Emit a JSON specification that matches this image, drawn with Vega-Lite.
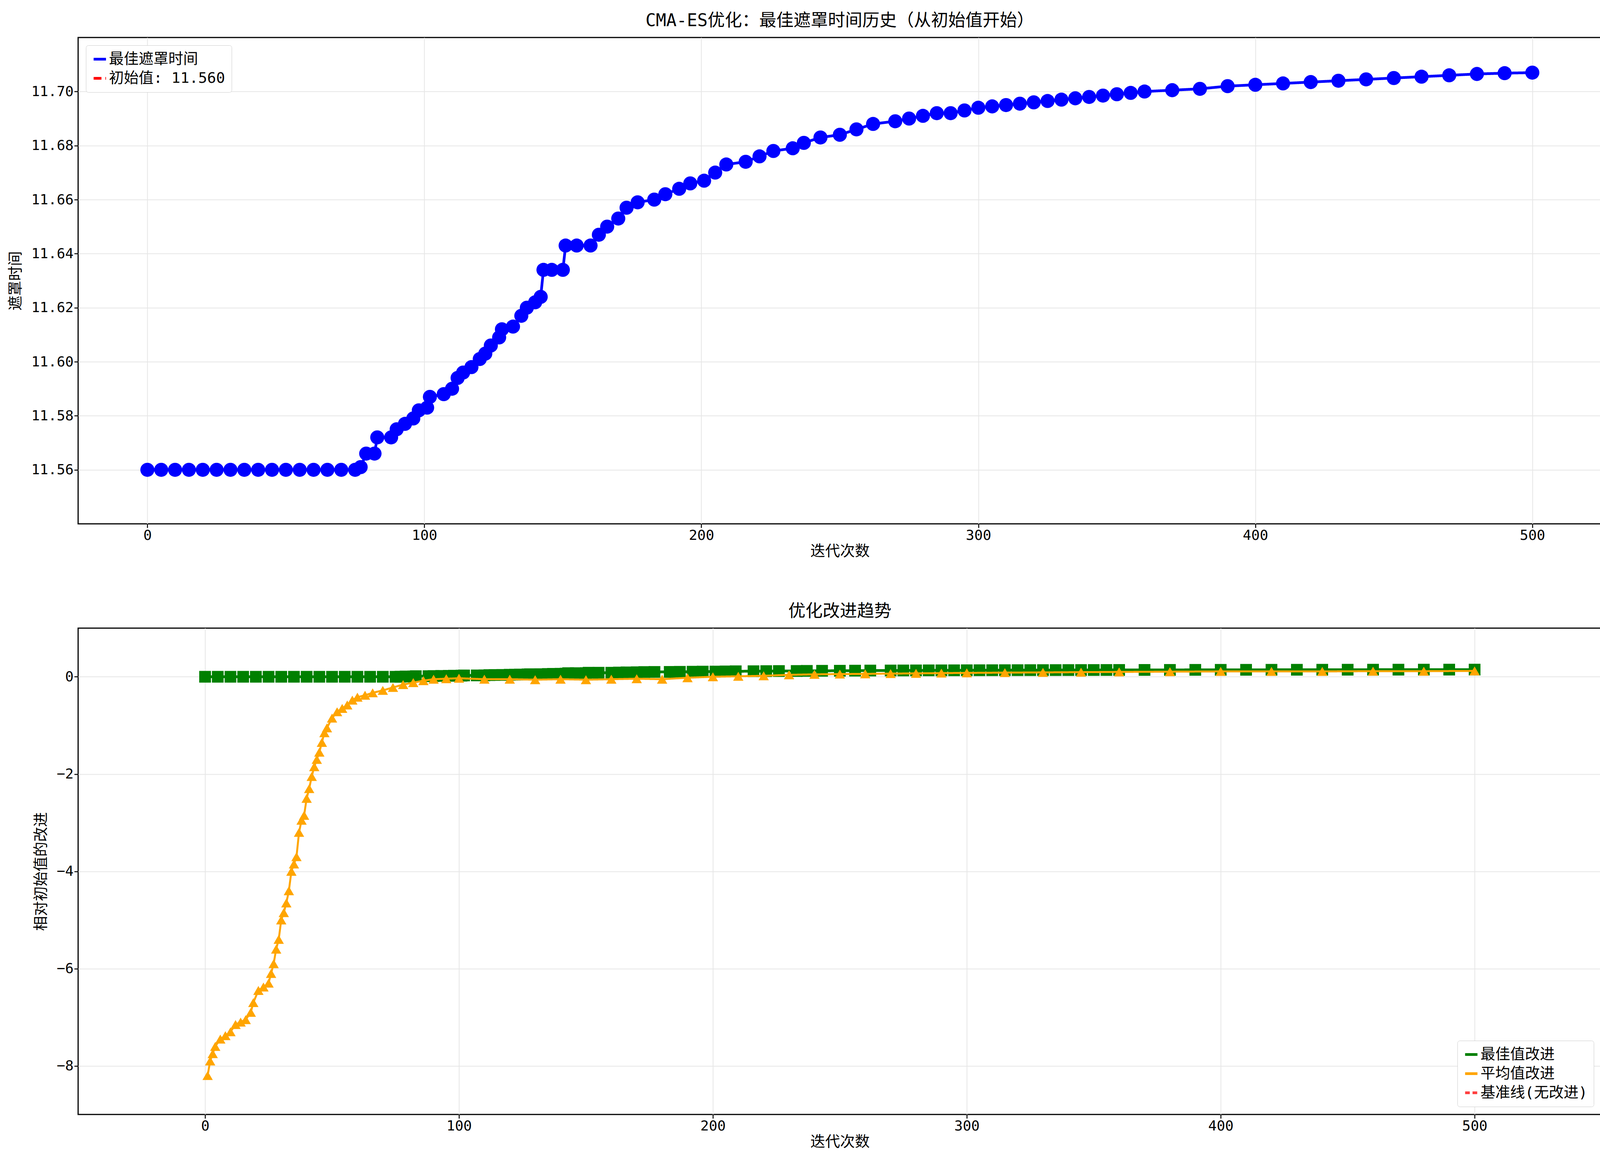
{
"$schema":"https://vega.github.io/schema/vega-lite/v6.json",
"background":"white",
"padding":{"left":20,"top":30,"right":20,"bottom":10},
"config":{"font":"DejaVu Sans Mono, Noto Sans CJK SC","view":{"stroke":"black","strokeWidth":3},
"axis":{"labelFontSize":36,"titleFontSize":38,"titleFontWeight":"normal","gridColor":"#e6e6e6","gridWidth":2,"domain":false,"tickColor":"black","tickWidth":2.5,"tickSize":10,"labelColor":"black","titleColor":"black"},
"title":{"fontSize":44,"fontWeight":"normal","color":"black","offset":20},
"legend":{"labelFontSize":38,"symbolSize":1000,"strokeColor":"#cccccc","fillColor":"white","padding":16,"cornerRadius":6,"symbolStrokeWidth":7,"labelLimit":800,"rowPadding":10}},
"datasets":{
"best":[
{"i":0,"v":11.560,"imp":0},{"i":5,"v":11.560,"imp":0},{"i":10,"v":11.560,"imp":0},{"i":15,"v":11.560,"imp":0},{"i":20,"v":11.560,"imp":0},{"i":25,"v":11.560,"imp":0},{"i":30,"v":11.560,"imp":0},{"i":35,"v":11.560,"imp":0},{"i":40,"v":11.560,"imp":0},{"i":45,"v":11.560,"imp":0},{"i":50,"v":11.560,"imp":0},{"i":55,"v":11.560,"imp":0},{"i":60,"v":11.560,"imp":0},{"i":65,"v":11.560,"imp":0},{"i":70,"v":11.560,"imp":0},{"i":75,"v":11.560,"imp":0},
{"i":77,"v":11.561,"imp":0.001},{"i":79,"v":11.566,"imp":0.006},{"i":82,"v":11.566,"imp":0.006},{"i":83,"v":11.572,"imp":0.012},{"i":88,"v":11.572,"imp":0.012},{"i":90,"v":11.575,"imp":0.015},{"i":93,"v":11.577,"imp":0.017},{"i":96,"v":11.579,"imp":0.019},{"i":98,"v":11.582,"imp":0.022},{"i":101,"v":11.583,"imp":0.023},{"i":102,"v":11.587,"imp":0.027},{"i":107,"v":11.588,"imp":0.028},{"i":110,"v":11.590,"imp":0.030},{"i":112,"v":11.594,"imp":0.034},{"i":114,"v":11.596,"imp":0.036},{"i":117,"v":11.598,"imp":0.038},{"i":120,"v":11.601,"imp":0.041},{"i":122,"v":11.603,"imp":0.043},{"i":124,"v":11.606,"imp":0.046},{"i":127,"v":11.609,"imp":0.049},{"i":128,"v":11.612,"imp":0.052},{"i":132,"v":11.613,"imp":0.053},{"i":135,"v":11.617,"imp":0.057},{"i":137,"v":11.620,"imp":0.060},{"i":140,"v":11.622,"imp":0.062},{"i":142,"v":11.624,"imp":0.064},{"i":143,"v":11.634,"imp":0.074},{"i":146,"v":11.634,"imp":0.074},{"i":150,"v":11.634,"imp":0.074},{"i":151,"v":11.643,"imp":0.083},{"i":155,"v":11.643,"imp":0.083},{"i":160,"v":11.643,"imp":0.083},{"i":163,"v":11.647,"imp":0.087},{"i":166,"v":11.650,"imp":0.090},{"i":170,"v":11.653,"imp":0.093},{"i":173,"v":11.657,"imp":0.097},{"i":177,"v":11.659,"imp":0.099},{"i":183,"v":11.660,"imp":0.100},{"i":187,"v":11.662,"imp":0.102},{"i":192,"v":11.664,"imp":0.104},{"i":196,"v":11.666,"imp":0.106},{"i":201,"v":11.667,"imp":0.107},{"i":205,"v":11.670,"imp":0.110},{"i":209,"v":11.673,"imp":0.113},{"i":216,"v":11.674,"imp":0.114},{"i":221,"v":11.676,"imp":0.116},{"i":226,"v":11.678,"imp":0.118},{"i":233,"v":11.679,"imp":0.119},{"i":237,"v":11.681,"imp":0.121},{"i":243,"v":11.683,"imp":0.123},{"i":250,"v":11.684,"imp":0.124},{"i":256,"v":11.686,"imp":0.126},{"i":262,"v":11.688,"imp":0.128},{"i":270,"v":11.689,"imp":0.129},{"i":275,"v":11.690,"imp":0.130},{"i":280,"v":11.691,"imp":0.131},{"i":285,"v":11.692,"imp":0.132},{"i":290,"v":11.692,"imp":0.132},{"i":295,"v":11.693,"imp":0.133},{"i":300,"v":11.694,"imp":0.134},{"i":305,"v":11.6945,"imp":0.1345},{"i":310,"v":11.695,"imp":0.135},{"i":315,"v":11.6955,"imp":0.1355},{"i":320,"v":11.696,"imp":0.136},{"i":325,"v":11.6965,"imp":0.1365},{"i":330,"v":11.697,"imp":0.137},{"i":335,"v":11.6975,"imp":0.1375},{"i":340,"v":11.698,"imp":0.138},{"i":345,"v":11.6985,"imp":0.1385},{"i":350,"v":11.699,"imp":0.139},{"i":355,"v":11.6995,"imp":0.1395},{"i":360,"v":11.700,"imp":0.140},{"i":370,"v":11.7005,"imp":0.1405},{"i":380,"v":11.701,"imp":0.141},{"i":390,"v":11.702,"imp":0.142},{"i":400,"v":11.7025,"imp":0.1425},{"i":410,"v":11.703,"imp":0.143},{"i":420,"v":11.7035,"imp":0.1435},{"i":430,"v":11.704,"imp":0.144},{"i":440,"v":11.7045,"imp":0.1445},{"i":450,"v":11.705,"imp":0.145},{"i":460,"v":11.7055,"imp":0.1455},{"i":470,"v":11.706,"imp":0.146},{"i":480,"v":11.7065,"imp":0.1465},{"i":490,"v":11.7068,"imp":0.1468},{"i":500,"v":11.707,"imp":0.147}
],
"avg":[
{"i":1,"a":-8.2},{"i":2,"a":-7.9},{"i":3,"a":-7.75},{"i":4,"a":-7.6},{"i":6,"a":-7.45},{"i":8,"a":-7.38},{"i":10,"a":-7.3},{"i":12,"a":-7.15},{"i":14,"a":-7.1},{"i":16,"a":-7.05},{"i":18,"a":-6.9},{"i":19,"a":-6.7},{"i":21,"a":-6.45},{"i":23,"a":-6.38},{"i":25,"a":-6.3},{"i":26,"a":-6.1},{"i":27,"a":-5.9},{"i":28,"a":-5.6},{"i":29,"a":-5.4},{"i":30,"a":-5.0},{"i":31,"a":-4.85},{"i":32,"a":-4.65},{"i":33,"a":-4.4},{"i":34,"a":-4.0},{"i":35,"a":-3.85},{"i":36,"a":-3.7},{"i":37,"a":-3.2},{"i":38,"a":-2.95},{"i":39,"a":-2.85},{"i":40,"a":-2.5},{"i":41,"a":-2.3},{"i":42,"a":-2.05},{"i":43,"a":-1.85},{"i":44,"a":-1.7},{"i":45,"a":-1.55},{"i":46,"a":-1.35},{"i":47,"a":-1.15},{"i":48,"a":-1.05},{"i":50,"a":-0.85},{"i":52,"a":-0.72},{"i":54,"a":-0.65},{"i":56,"a":-0.58},{"i":58,"a":-0.48},{"i":60,"a":-0.42},{"i":63,"a":-0.38},{"i":66,"a":-0.33},{"i":70,"a":-0.28},{"i":74,"a":-0.22},{"i":78,"a":-0.16},{"i":82,"a":-0.12},{"i":86,"a":-0.08},{"i":90,"a":-0.05},{"i":95,"a":-0.04},{"i":100,"a":-0.03},{"i":110,"a":-0.05},{"i":120,"a":-0.05},{"i":130,"a":-0.06},{"i":140,"a":-0.05},{"i":150,"a":-0.06},{"i":160,"a":-0.05},{"i":170,"a":-0.04},{"i":180,"a":-0.05},{"i":190,"a":-0.02},{"i":200,"a":0.0},{"i":210,"a":0.01},{"i":220,"a":0.02},{"i":230,"a":0.04},{"i":240,"a":0.05},{"i":250,"a":0.055},{"i":260,"a":0.06},{"i":270,"a":0.065},{"i":280,"a":0.07},{"i":290,"a":0.075},{"i":300,"a":0.08},{"i":315,"a":0.085},{"i":330,"a":0.09},{"i":345,"a":0.095},{"i":360,"a":0.1},{"i":380,"a":0.105},{"i":400,"a":0.11},{"i":420,"a":0.11},{"i":440,"a":0.11},{"i":460,"a":0.115},{"i":480,"a":0.115},{"i":500,"a":0.12}
]},
"resolve":{"scale":{"x":"independent","y":"independent","color":"independent","strokeDash":"independent"},"legend":{"color":"independent","strokeDash":"independent"}},
"vconcat":[
{"width":3900,"height":1245,
"title":"CMA-ES优化：最佳遮罩时间历史（从初始值开始）",
"layer":[
{"data":{"name":"best"},"mark":{"type":"line","strokeWidth":7,"point":{"size":1300,"filled":true}},
"encoding":{"x":{"field":"i","type":"quantitative","scale":{"domain":[-25,525]},"axis":{"values":[0,100,200,300,400,500],"title":"迭代次数"}},
"y":{"field":"v","type":"quantitative","scale":{"domain":[11.553,11.716],"zero":false},"axis":{"values":[11.56,11.58,11.6,11.62,11.64,11.66,11.68,11.7],"format":".2f","title":"遮罩时间","titlePadding":20}},
"color":{"datum":"最佳遮罩时间","type":"nominal","scale":{"domain":["最佳遮罩时间","初始值: 11.560"],"range":["#0000ff","#ff0000"]},"legend":{"title":null,"orient":"top-left","offset":20,"symbolType":"stroke"}},
"strokeDash":{"datum":"最佳遮罩时间","type":"nominal","scale":{"domain":["最佳遮罩时间","初始值: 11.560"],"range":[[1,0],[20,10]]},"legend":{"title":null,"orient":"top-left","offset":20,"symbolType":"stroke"}}}},
{"mark":{"type":"rule","strokeWidth":7},
"encoding":{"y":{"datum":11.56},
"color":{"datum":"初始值: 11.560","type":"nominal"},
"strokeDash":{"datum":"初始值: 11.560","type":"nominal"}}}
]},
{"width":3900,"height":1245,
"title":"优化改进趋势",
"layer":[
{"data":{"name":"best"},"mark":{"type":"line","strokeWidth":7,"point":{"shape":"square","size":900,"filled":true}},
"encoding":{"x":{"field":"i","type":"quantitative","scale":{"domain":[-25,525]},"axis":{"values":[0,100,200,300,400,500],"title":"迭代次数"}},
"y":{"field":"imp","type":"quantitative","scale":{"domain":[-8.6,0.55]},"axis":{"values":[-8,-6,-4,-2,0],"format":"d","title":"相对初始值的改进","titlePadding":20}},
"color":{"datum":"最佳值改进","type":"nominal","scale":{"domain":["最佳值改进","平均值改进","基准线(无改进)"],"range":["#008000","#ffa500","#ff4040"]},"legend":{"title":null,"orient":"bottom-right","offset":20,"symbolType":"stroke"}},
"strokeDash":{"datum":"最佳值改进","type":"nominal","scale":{"domain":["最佳值改进","平均值改进","基准线(无改进)"],"range":[[1,0],[1,0],[12,7]]},"legend":{"title":null,"orient":"bottom-right","offset":20,"symbolType":"stroke"}}}},
{"data":{"name":"avg"},"mark":{"type":"line","strokeWidth":5,"point":{"shape":"triangle-up","size":700,"filled":true}},
"encoding":{"x":{"field":"i","type":"quantitative"},"y":{"field":"a","type":"quantitative"},
"color":{"datum":"平均值改进","type":"nominal"},"strokeDash":{"datum":"平均值改进","type":"nominal"}}},
{"mark":{"type":"rule","strokeWidth":4,"opacity":0.8},
"encoding":{"y":{"datum":0},"color":{"datum":"基准线(无改进)","type":"nominal"},"strokeDash":{"datum":"基准线(无改进)","type":"nominal"}}}
]}
],
"spacing":110
}
